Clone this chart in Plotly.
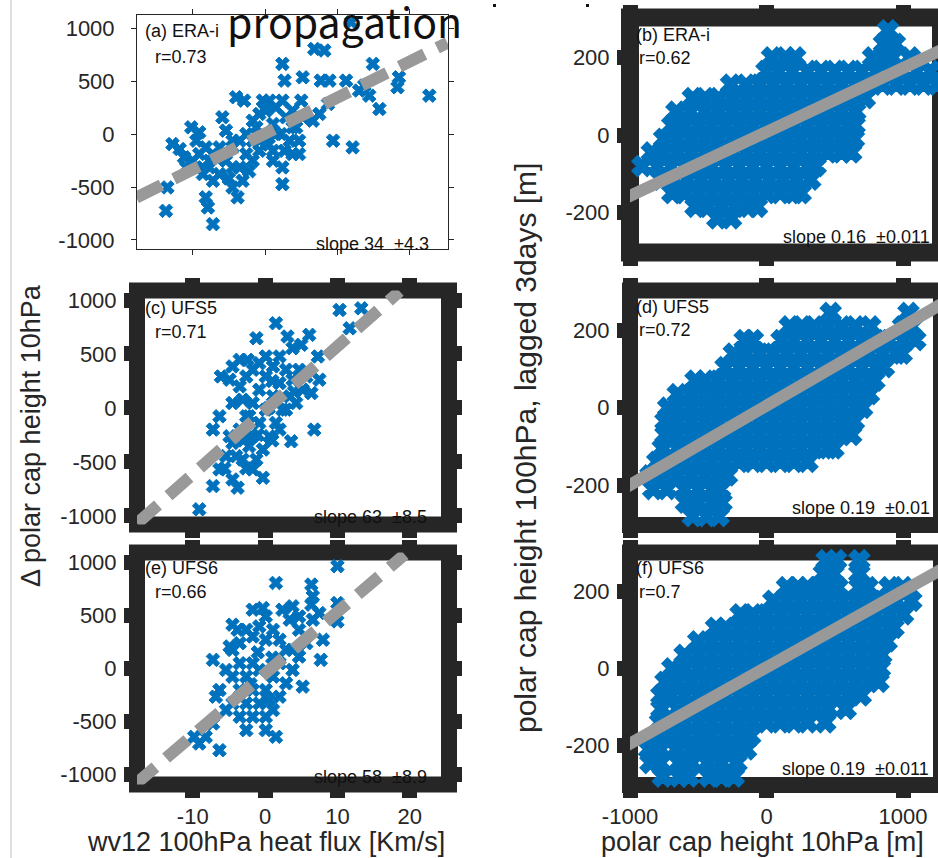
import plotly.graph_objects as go

W, H = 938, 858

# ---------------- data ----------------
# left column: wv12 100hPa heat flux [K m/s] vs delta polar-cap height 10hPa [m]
a_points = [
    (-13.7, -725), (-13.5, -504), (-12.8, -95), (-11.8, -142), (-11.2, -220), (-10.2, 63), (-9.1, 16),
    (-9.5, -63), (-10.9, -315), (-10.0, -252), (-9.1, -189), (-8.2, -126), (-8.6, -378), (-7.7, -315),
    (-6.8, -220), (-7.2, -441), (-6.3, -378), (-5.4, -252), (-8.2, -598), (-7.9, -693), (-7.2, -850),
    (-5.9, 158), (-5.4, 32), (-4.5, -63), (-4.0, 347), (-2.9, 315), (-4.5, -504), (-3.8, -598),
    (-3.1, -441), (-3.5, -315), (-2.6, -189), (-1.7, -63), (-1.2, 63), (-0.8, 189), (-0.3, 315),
    (0.1, 220), (-1.7, -252), (-0.8, -158), (0.1, -32), (1.1, 95), (0.6, 315), (1.5, 252), (2.4, 662),
    (2.7, 504), (2.4, 315), (2.9, 158), (2.2, 0), (2.7, -158), (2.4, -315), (2.4, -473), (3.8, 220),
    (4.3, 63), (4.7, -63), (3.8, -189), (3.4, -63), (5.2, 158), (5.0, 315), (5.2, 535), (6.8, 803),
    (8.2, 788), (7.7, 504), (8.9, 504), (8.7, 284), (7.5, 189), (6.6, 126), (9.4, -63), (11.2, 504),
    (11.9, 1055), (12.1, -126), (13.0, 410), (13.7, 457), (14.4, 362), (14.9, 662), (15.8, 236),
    (18.3, 441), (18.5, 535), (22.7, 362), (-4.5, -126), (-3.5, -63), (-2.6, 0), (-6.3, -126),
    (-7.2, -189), (-4.5, -315), (-8.6, -315), (-7.7, -252), (-1.7, 126), (-0.8, -63), (1.1, -158),
    (1.5, 0), (1.1, -252), (3.8, 63), (4.7, -189), (-2.2, -350), (-5.0, -420), (0.5, -100),
]
c_points = [
    (-9.1, -938), (-7.2, -200), (-6.1, 292), (-4.9, 262), (-4.5, 385), (-3.5, 446), (-2.4, 446),
    (-1.2, 646), (1.5, 785), (3.1, 662), (3.8, 554), (5.0, 585), (6.1, 677), (6.8, -200), (3.6, -308),
    (10.3, 908), (11.7, 738), (13.3, 923), (7.3, 477), (7.5, 262), (6.4, 138), (4.3, 46), (-7.2, -723),
    (-6.3, -569), (-4.5, -662), (-3.8, -738), (-1.7, -569), (-0.3, -646), (-5.4, -446), (-4.5, -323),
    (-3.5, -200), (-2.6, -77), (-1.7, 46), (-0.8, 169), (0.1, 292), (1.1, 385), (2.0, 477), (2.9, 354),
    (3.8, 262), (4.7, 354), (5.7, 292), (5.2, 169), (3.4, 108), (2.4, -15), (1.5, -138), (0.6, -262),
    (-0.3, -385), (-1.2, -477), (-2.2, -354), (-3.1, -477), (-4.0, -446), (-4.9, -262), (-6.3, -77),
    (-4.5, 46), (-3.5, 200), (-2.6, 292), (-1.7, 354), (-0.8, 415), (0.1, 477), (1.1, 108), (0.1, -15),
    (-0.8, -138), (-1.7, -262), (2.0, 231), (2.9, -15), (2.0, -200), (-2.2, -77), (-3.1, 77),
    (-5.6, -560), (-2.6, -560), (1.0, -300), (0.5, 0), (-1.0, -250), (-3.0, -300), (4.0, 150), (1.0, 250),
]
e_points = [
    (10.0, 961), (1.5, 803), (-0.3, 567), (6.4, 788), (6.6, 677), (6.4, 599), (10.0, 614), (10.0, 441),
    (7.5, 520), (7.7, 79), (8.0, 268), (5.2, -173), (1.5, -646), (0.1, -583), (-2.6, -583), (-6.3, -772),
    (-9.1, -709), (-9.8, -646), (-7.2, 79), (-6.8, -268), (-4.5, 410), (-3.8, 362), (-4.9, 205),
    (-1.7, 551), (0.1, 488), (2.4, 551), (3.4, 457), (3.8, 583), (4.7, 362), (5.7, 236), (4.7, 110),
    (3.8, -16), (2.9, -142), (2.0, -268), (1.1, -394), (0.1, -457), (-0.8, -331), (-1.7, -205),
    (-2.6, -79), (-3.5, 47), (-4.5, 173), (-3.5, 236), (-2.6, 362), (-1.7, 299), (-0.8, 394), (0.1, 268),
    (1.1, 362), (2.0, 268), (2.9, 173), (2.0, 47), (1.1, -79), (0.1, -205), (-0.8, -16), (-1.7, 47),
    (-2.6, -331), (-3.5, -205), (-4.5, -79), (-5.4, -16), (-6.3, -205), (-4.5, -331), (-3.5, -457),
    (-1.7, -457), (-5.4, -394), (-7.2, -520), (-8.2, -646), (3.8, 173), (6.6, 457), (4.7, 488),
    (1.0, 100), (-1.0, 150), (0.5, -300), (-2.0, -150),
]

# right column: polar cap height 10hPa [m] vs polar cap height 100hPa lagged 3 days [m]
# (dense clouds, read row by row: one y level, then the x positions seen on it)
b_row_y = [270, 235, 200, 165, 130, 95, 60, 25, -10, -45, -80, -115, -150, -185, -215]
b_row_x = [
    [890],
    [860, 940],
    [40, 140, 210, 780, 850, 920, 1050],
    [0, 90, 190, 300, 400, 500, 600, 700, 800, 900, 1000, 1100, 1200, 1270],
    [-260, -150, -50, 50, 150, 250, 350, 450, 550, 650, 750, 850, 950, 1050, 1150, 1250],
    [-540, -450, -350, -250, -150, -50, 50, 150, 250, 350, 450, 550, 650, 720],
    [-660, -560, -450, -350, -250, -150, -50, 50, 150, 250, 350, 450, 550, 650],
    [-690, -600, -500, -400, -300, -200, -100, 0, 100, 200, 300, 400, 500, 600, 645],
    [-750, -650, -550, -450, -350, -250, -150, -50, 50, 150, 250, 350, 450, 550, 640],
    [-840, -750, -650, -550, -450, -350, -250, -150, -50, 50, 150, 250, 350, 450, 550, 620],
    [-910, -800, -700, -600, -500, -400, -300, -200, -100, 0, 100, 200, 300, 360],
    [-770, -680, -580, -480, -380, -280, -180, -80, 20, 120, 220, 320],
    [-690, -600, -500, -400, -300, -200, -100, 0, 100, 200, 250],
    [-520, -430, -330, -230, -130, -70],
    [-360, -260],
]
d_row_y = [245, 210, 175, 140, 105, 70, 35, 0, -35, -70, -105, -140, -175, -210, -245, -280]
d_row_x = [
    [470, 1040],
    [170, 260, 350, 450, 550, 650, 760, 1000, 1060],
    [-160, -100, 110, 200, 300, 400, 500, 600, 700, 800, 900, 1000, 1090],
    [-240, -150, -50, 50, 150, 250, 350, 450, 550, 650, 750, 850, 950, 990],
    [-300, -200, -100, 0, 100, 200, 300, 400, 500, 600, 700, 800, 860],
    [-520, -450, -350, -250, -150, -50, 50, 150, 250, 350, 450, 550, 650, 750, 790],
    [-650, -550, -450, -350, -250, -150, -50, 50, 150, 250, 350, 450, 550, 650, 750],
    [-720, -650, -550, -450, -350, -250, -150, -50, 50, 150, 250, 350, 450, 550, 650, 700],
    [-740, -650, -550, -450, -350, -250, -150, -50, 50, 150, 250, 350, 450, 550, 640],
    [-740, -650, -550, -450, -350, -250, -150, -50, 50, 150, 250, 350, 450, 550, 620],
    [-760, -650, -550, -450, -350, -250, -150, -50, 50, 150, 250, 350, 450, 490],
    [-800, -700, -600, -500, -400, -300, -200, -100, 0, 100, 200, 300],
    [-850, -750, -650, -550, -450, -350, -290],
    [-830, -730, -600, -500, -400, -340],
    [-590, -500, -400, -330],
    [-540, -440, -350],
]
f_row_y = [280, 245, 210, 175, 140, 105, 70, 35, 0, -35, -70, -105, -140, -175, -210, -245, -280]
f_row_x = [
    [440, 510, 680],
    [420, 490, 680],
    [150, 230, 300, 380, 450, 520, 680, 740, 900, 1000],
    [50, 150, 250, 350, 450, 550, 650, 750, 850, 950, 1060],
    [-190, -100, 0, 100, 200, 300, 400, 500, 600, 700, 800, 900, 1000],
    [-370, -300, -200, -100, 0, 100, 200, 300, 400, 500, 600, 700, 800, 900, 930],
    [-500, -400, -300, -200, -100, 0, 100, 200, 300, 400, 500, 600, 700, 800, 880],
    [-600, -500, -400, -300, -200, -100, 0, 100, 200, 300, 400, 500, 600, 700, 800, 840],
    [-690, -600, -500, -400, -300, -200, -100, 0, 100, 200, 300, 400, 500, 600, 700, 800, 830],
    [-740, -650, -550, -450, -350, -250, -150, -50, 50, 150, 250, 350, 450, 550, 650, 750, 820],
    [-770, -700, -600, -500, -400, -300, -200, -100, 0, 100, 200, 300, 400, 500, 600, 690],
    [-770, -650, -550, -450, -350, -250, -150, -50, 50, 150, 250, 350, 450, 580],
    [-780, -700, -600, -500, -400, -300, -200, -100, 0, 100, 200, 300, 430],
    [-800, -700, -600, -500, -400, -300, -200, -120],
    [-860, -780, -660, -560, -480, -420, -330, -240, -150],
    [-850, -780, -640, -550, -430, -330, -220],
    [-760, -640, -570, -420, -330, -240],
]

# regression lines (end points)
a_fit_x, a_fit_y = [-17.8, 25.2], [-600, 860]
c_fit_x, c_fit_y = [-17.7, 18.6], [-1070, 1080]
e_fit_x, e_fit_y = [-18.1, 19.3], [-1102, 1071]
b_fit_x, b_fit_y = [-1050, 1300], [-165, 222]
d_fit_x, d_fit_y = [-1050, 1300], [-210, 272]
f_fit_x, f_fit_y = [-1050, 1300], [-205, 260]

panel_names = ["(a) ERA-i", "(b) ERA-i", "(c) UFS5", "(d) UFS5", "(e) UFS6", "(f) UFS6"]
r_texts = ["r=0.73", "r=0.62", "r=0.71", "r=0.72", "r=0.66", "r=0.7"]
slope_texts = ["slope 34  \u00b14.3", "slope 0.16  \u00b10.011", "slope 63  \u00b18.5",
               "slope 0.19  \u00b10.01", "slope 58  \u00b18.9", "slope 0.19  \u00b10.011"]

left_xticks = [-10, 0, 10, 20]
left_xticktext = ["-10", "0", "10", "20"]
left_yticks = [-1000, -500, 0, 500, 1000]
left_yticktext = ["-1000", "-500", "0", "500", "1000"]
right_xticks = [-1000, 0, 1000]
right_xticktext = ["-1000", "0", "1000"]
right_yticks = [-200, 0, 200]
right_yticktext = ["-200", "0", "200"]

title_text = "propagation"
left_xlabel = "wv12 100hPa heat flux [Km/s]"
left_ylabel = "\u0394 polar cap height 10hPa"
right_xlabel = "polar cap height 10hPa [m]"
right_ylabel = "polar cap height 100hPa, lagged 3days [m]"

# ---------------- styling / layout ----------------
BLUE = "#0072BD"
GRAY = "#999999"
DARK = "#262626"
FONT = "Liberation Sans, Arial, sans-serif"


def flat_rows(row_y, row_x):
    xs, ys = [], []
    for yv, xl in zip(row_y, row_x):
        for xv in xl:
            xs.append(xv)
            ys.append(yv)
    return xs, ys


def unzip(pts):
    return [p[0] for p in pts], [p[1] for p in pts]


a_x, a_y = unzip(a_points)
c_x, c_y = unzip(c_points)
e_x, e_y = unzip(e_points)
b_x, b_y = flat_rows(b_row_y, b_row_x)
d_x, d_y = flat_rows(d_row_y, d_row_x)
f_x, f_y = flat_rows(f_row_y, f_row_x)

# pixel boxes of each axes (left, right, top, bottom)
boxes = [
    (137, 448, 15, 249),
    (630, 938, 17.5, 252.5),
    (137, 449, 290.5, 524.5),
    (630, 938, 290.5, 525),
    (137, 449, 552.5, 784.5),
    (630, 938, 552.5, 785),
]
yranges = [[-1085, 1123], [-303, 303], [-1079, 1088], [-303, 303], [-1095, 1090], [-302, 300]]
scatter = [(a_x, a_y), (b_x, b_y), (c_x, c_y), (d_x, d_y), (e_x, e_y), (f_x, f_y)]
fits = [(a_fit_x, a_fit_y), (b_fit_x, b_fit_y), (c_fit_x, c_fit_y),
        (d_fit_x, d_fit_y), (e_fit_x, e_fit_y), (f_fit_x, f_fit_y)]

fig = go.Figure()
layout = dict(
    width=W, height=H, margin=dict(l=0, r=0, t=0, b=0, autoexpand=False),
    paper_bgcolor="white", plot_bgcolor="white", showlegend=False,
    font=dict(family=FONT, color=DARK),
)
shapes = []
annotations = []

for i in range(6):
    n = i + 1
    sfx = "" if n == 1 else str(n)
    l, r, t, b = boxes[i]
    right = (i % 2 == 1)
    bottom_row = i >= 4
    thick = i != 0
    xs, ys = scatter[i]
    if right:
        mk = dict(symbol="x", size=17, color=BLUE, line=dict(width=2.5, color=BLUE))
    else:
        mk = dict(symbol="x", size=12, color=BLUE, line=dict(width=1, color=BLUE))
    fig.add_trace(go.Scatter(
        x=xs, y=ys, mode="markers", xaxis="x" + sfx, yaxis="y" + sfx,
        marker=mk, cliponaxis=False, hoverinfo="skip"))
    fx, fy = fits[i]
    fig.add_trace(go.Scatter(
        x=fx, y=fy, mode="lines", xaxis="x" + sfx, yaxis="y" + sfx,
        line=dict(color=GRAY, width=12, dash=("solid" if right else "28px,14px")),
        hoverinfo="skip"))

    tickfont = dict(family=FONT, size=22, color=DARK)
    common = dict(showgrid=False, zeroline=False, ticks="outside", tickcolor=DARK,
                  tickfont=tickfont, automargin=False)
    if thick:
        common.update(showline=False, ticklen=12, tickwidth=15, mirror="ticks")
    else:
        common.update(showline=True, linecolor=DARK, linewidth=1, ticklen=5, tickwidth=1, mirror="ticks")
    xr = [-1000, 1256] if right else [-17.7, -17.7 + (r - l) / 7.235]
    layout["xaxis" + sfx] = dict(
        domain=[l / W, r / W], range=xr, anchor="y" + sfx,
        tickvals=right_xticks if right else left_xticks,
        ticktext=right_xticktext if right else left_xticktext,
        showticklabels=bottom_row, ticklabelstandoff=0, **common)
    layout["yaxis" + sfx] = dict(
        domain=[1 - b / H, 1 - t / H], range=yranges[i], anchor="x" + sfx,
        tickvals=right_yticks if right else left_yticks,
        ticktext=right_yticktext if right else left_yticktext,
        ticklabelstandoff=(3 if thick else 12), **common)

    if thick:
        fw = 18 if i == 1 else 16
        rr = 941 if right else r
        shapes.append(dict(type="rect", xref="paper", yref="paper", layer="below",
                           x0=l / W, x1=rr / W, y0=1 - b / H, y1=1 - t / H,
                           line=dict(color=DARK, width=fw), fillcolor="rgba(0,0,0,0)"))

# panel texts (pixel positions)
name_pos = [(143, 31), (634, 35), (143, 308), (634, 307), (143, 568), (634, 568)]
r_pos = [(153, 57), (637, 58), (153, 332), (637, 330), (153, 592), (637, 592)]
slope_pos = [(431, 244), (932, 237), (429, 517), (932, 508), (429, 777), (931, 769)]
for i in range(6):
    for txt, (px, py), anc in ((panel_names[i], name_pos[i], "left"),
                               (r_texts[i], r_pos[i], "left"),
                               (slope_texts[i], slope_pos[i], "right")):
        annotations.append(dict(text=txt, x=px / W, y=1 - py / H, xref="paper", yref="paper",
                                xanchor=anc, yanchor="middle", showarrow=False,
                                font=dict(family=FONT, size=18, color="#111111")))

# axis titles
annotations += [
    dict(text=left_xlabel, x=266 / W, y=1 - 842 / H, xref="paper", yref="paper", showarrow=False,
         xanchor="center", yanchor="middle", font=dict(family=FONT, size=27, color=DARK)),
    dict(text=right_xlabel, x=762 / W, y=1 - 842 / H, xref="paper", yref="paper", showarrow=False,
         xanchor="center", yanchor="middle", font=dict(family=FONT, size=27, color=DARK)),
    dict(text=left_ylabel, x=31 / W, y=1 - 436 / H, xref="paper", yref="paper", showarrow=False,
         textangle=-90, xanchor="center", yanchor="middle", font=dict(family=FONT, size=27, color=DARK)),
    dict(text=right_ylabel, x=525 / W, y=1 - 448 / H, xref="paper", yref="paper", showarrow=False,
         textangle=-90, xanchor="center", yanchor="middle", font=dict(family=FONT, size=30, color=DARK)),
    dict(text=title_text, x=344 / W, y=1.0, xref="paper", yref="paper", showarrow=False,
         xanchor="center", yanchor="top", yshift=12,
         font=dict(family="Noto Sans CJK JP, Noto Sans, sans-serif", size=41, color="#111111")),
]

# page decorations: thin grey border line and two stray dots
shapes += [
    dict(type="line", xref="paper", yref="paper", x0=11 / W, x1=11 / W, y0=0, y1=1,
         line=dict(color="#c0c0c0", width=1)),
    dict(type="rect", xref="paper", yref="paper", x0=493 / W, x1=496 / W, y0=1 - 7 / H, y1=1 - 4 / H,
         line=dict(width=0), fillcolor="#111111"),
    dict(type="rect", xref="paper", yref="paper", x0=586 / W, x1=589 / W, y0=1 - 7 / H, y1=1 - 4 / H,
         line=dict(width=0), fillcolor="#111111"),
]

layout["shapes"] = shapes
layout["annotations"] = annotations
fig.update_layout(**layout)
fig.write_html("out.html")
